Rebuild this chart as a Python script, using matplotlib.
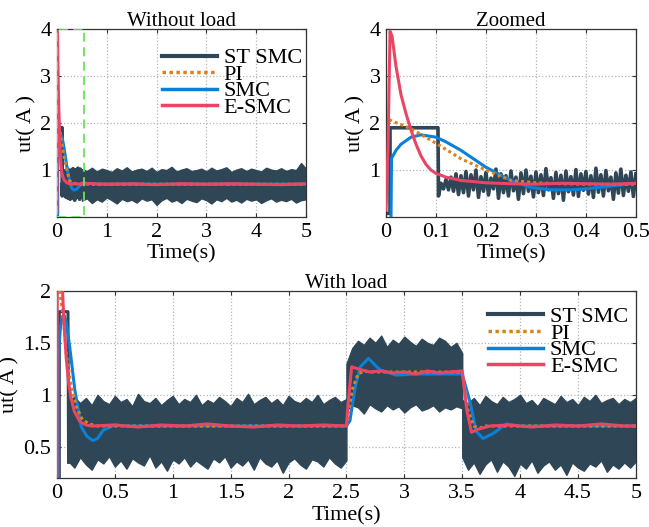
import numpy as np
import matplotlib
matplotlib.use("Agg")
import matplotlib.pyplot as plt
from matplotlib.lines import Line2D
from matplotlib.patches import Rectangle
from matplotlib.ticker import FormatStrFormatter

plt.rcParams['font.family'] = ['Liberation Serif', 'DejaVu Serif']

# ---- without load ----
esmc_nl_t = [0, 0.004, 0.008, 0.012, 0.02, 0.03, 0.04, 0.05, 0.06, 0.07, 0.08, 0.09, 0.1,
             0.12, 0.15, 0.2, 0.25, 0.3, 0.35, 0.4, 0.45, 0.5,
             1.0, 1.5, 2.0, 2.5, 3.0, 3.5, 4.0, 4.5, 5.0]
esmc_nl_u = [0.15, 1.5, 3.95, 3.85, 3.2, 2.6, 2.2, 1.85, 1.55, 1.3, 1.12, 1.0, 0.93,
             0.85, 0.78, 0.73, 0.71, 0.70, 0.72, 0.71, 0.70, 0.72,
             0.70, 0.71, 0.69, 0.71, 0.70, 0.71, 0.70, 0.69, 0.71]

smc_nl_t = [0.010, 0.011, 0.02, 0.03, 0.05, 0.07, 0.1, 0.12, 0.15, 0.2, 0.25, 0.29,
            0.33, 0.37, 0.4, 0.45, 0.5, 0.6, 0.8, 1.0, 5.0]
smc_nl_u = [0.0, 1.25, 1.42, 1.55, 1.70, 1.75, 1.70, 1.60, 1.42, 1.06, 0.78, 0.63,
            0.58, 0.58, 0.60, 0.66, 0.72, 0.72, 0.70, 0.70, 0.70]

pi_nl_t = [0.006, 0.05, 0.1, 0.15, 0.2, 0.25, 0.3, 0.35, 0.4, 5.0]
pi_nl_u = [2.07, 1.88, 1.57, 1.24, 1.0, 0.78, 0.73, 0.71, 0.70, 0.70]

stsmc_nl_t = [0, 0.008, 0.008, 0.104, 0.105]
stsmc_nl_u = [0.08, 0.08, 1.9, 1.9, 0.45]

# chattering after the reaching phase, 0.110 s .. 0.500 s every 5 ms
stsmc_chatter = [0.72, 0.60, 0.80, 0.58, 0.85, 0.55, 0.92, 0.48, 0.88, 0.52,
                 0.97, 0.45, 0.90, 0.58, 1.00, 0.42, 0.86, 0.55, 0.95, 0.47,
                 0.83, 0.60, 1.02, 0.40, 0.92, 0.52, 0.88, 0.45, 0.98, 0.56,
                 0.85, 0.38, 0.94, 0.50, 1.00, 0.55, 0.87, 0.43, 0.96, 0.52,
                 0.90, 0.46, 1.03, 0.58, 0.84, 0.40, 0.95, 0.50, 0.89, 0.36,
                 0.98, 0.54, 0.86, 0.47, 1.01, 0.44, 0.92, 0.57, 0.97, 0.49,
                 0.88, 0.42, 1.04, 0.53, 0.90, 0.45, 0.99, 0.56, 0.85, 0.38,
                 0.94, 0.51, 1.02, 0.46, 0.89, 0.55, 0.96, 0.44, 0.92]

# chattering band 0.5 s .. 5 s every 0.1 s
stsmc_nl_hi = [1.02, 0.98, 1.05, 0.97, 1.03, 1.00, 0.96, 1.04, 0.99, 1.06,
               0.97, 1.01, 1.03, 0.98, 1.05, 0.96, 1.02, 1.00, 1.07, 0.97,
               1.01, 1.04, 0.98, 1.00, 1.03, 0.97, 1.05, 0.99, 1.02, 1.06,
               0.96, 1.01, 1.04, 0.98, 1.03, 1.00, 0.97, 1.05, 1.01, 0.99,
               1.04, 0.98, 1.02, 1.00, 1.15, 1.03]
stsmc_nl_lo = [0.35, 0.40, 0.30, 0.38, 0.33, 0.42, 0.36, 0.29, 0.39, 0.34,
               0.37, 0.31, 0.40, 0.35, 0.38, 0.26, 0.36, 0.41, 0.33, 0.37,
               0.30, 0.39, 0.35, 0.32, 0.40, 0.36, 0.29, 0.38, 0.34, 0.41,
               0.33, 0.37, 0.31, 0.39, 0.35, 0.38, 0.30, 0.36, 0.40, 0.33,
               0.37, 0.34, 0.39, 0.31, 0.36, 0.38]

# ---- with load ----
esmc_ld_t = [0, 0.003, 0.01, 0.02, 0.03, 0.04, 0.05, 0.06, 0.08, 0.1, 0.12, 0.15, 0.2,
             0.25, 0.3, 0.5, 0.7, 0.9, 1.1, 1.3, 1.5, 1.7, 1.9, 2.1, 2.3, 2.5,
             2.515, 2.545, 2.6, 2.7, 2.8, 2.9, 3.0, 3.1, 3.2, 3.3, 3.4, 3.5,
             3.54, 3.58, 3.64, 3.74, 3.9, 4.1, 4.3, 4.5, 4.7, 4.9, 5.0]
esmc_ld_u = [0.2, 3.0, 3.9, 3.4, 2.8, 2.3, 1.95, 1.7, 1.35, 1.12, 0.98, 0.84, 0.74,
             0.71, 0.70, 0.71, 0.69, 0.71, 0.70, 0.72, 0.70, 0.69, 0.71, 0.70, 0.71, 0.70,
             0.92, 1.27, 1.25, 1.22, 1.23, 1.21, 1.22, 1.20, 1.23, 1.21, 1.22, 1.23,
             0.85, 0.64, 0.67, 0.70, 0.71, 0.69, 0.71, 0.70, 0.72, 0.70, 0.70]

smc_ld_t = [0.011, 0.012, 0.02, 0.03, 0.045, 0.06, 0.08, 0.11, 0.155, 0.21, 0.26, 0.31,
            0.35, 0.4, 0.5, 0.6, 2.5, 2.53, 2.575, 2.62, 2.69, 2.79, 2.93, 3.1, 3.5,
            3.57, 3.62, 3.68, 3.77, 3.88, 4.0, 5.0]
smc_ld_u = [0.2, 1.3, 1.5, 1.65, 1.75, 1.77, 1.70, 1.46, 1.04, 0.69, 0.60, 0.56,
            0.58, 0.66, 0.71, 0.70, 0.70, 0.75, 1.07, 1.27, 1.35, 1.24, 1.19, 1.20, 1.20,
            0.92, 0.65, 0.58, 0.63, 0.72, 0.70, 0.70]

pi_ld_t = [0.02, 0.05, 0.08, 0.12, 0.17, 0.22, 0.28, 0.35, 2.5, 2.55, 2.6, 2.65, 2.7,
           3.5, 3.55, 3.6, 3.65, 3.7, 5.0]
pi_ld_u = [2.0, 1.8, 1.4, 1.1, 0.88, 0.76, 0.72, 0.70, 0.70, 1.05, 1.2, 1.23, 1.22,
           1.22, 0.85, 0.70, 0.68, 0.70, 0.70]

stsmc_ld_t = [0.02, 0.02, 0.095, 0.1]
stsmc_ld_u = [0.2, 1.8, 1.8, 0.35]

# chattering band, every 0.05 s: 0.1-2.5 s, 2.5-3.5 s, 3.5-5 s
band1_hi = [0.95, 0.98, 0.92, 0.97, 0.90, 1.00, 0.94, 0.91, 0.99, 0.93,
            0.96, 0.89, 1.01, 0.94, 0.92, 0.97, 0.90, 0.95, 0.99, 0.91,
            0.96, 0.93, 1.00, 0.90, 0.95, 0.92, 0.98, 0.94, 0.89, 0.97,
            0.93, 1.01, 0.91, 0.95, 0.98, 0.92, 0.96, 0.90, 0.99, 0.94,
            0.92, 0.97, 0.93, 1.00, 0.91, 0.95, 0.98, 0.93, 0.96]
band1_lo = [0.36, 0.30, 0.40, 0.33, 0.28, 0.38, 0.34, 0.41, 0.31, 0.37,
            0.29, 0.39, 0.35, 0.32, 0.42, 0.30, 0.36, 0.27, 0.38, 0.34,
            0.40, 0.31, 0.37, 0.33, 0.29, 0.39, 0.35, 0.41, 0.30, 0.36,
            0.32, 0.38, 0.28, 0.40, 0.34, 0.31, 0.37, 0.25, 0.35, 0.39,
            0.33, 0.29, 0.38, 0.36, 0.31, 0.40, 0.34, 0.30, 0.37]
band2_hi = [1.30, 1.45, 1.52, 1.48, 1.55, 1.50, 1.57, 1.46, 1.53, 1.49, 1.56,
            1.51, 1.47, 1.54, 1.50, 1.48, 1.55, 1.52, 1.46, 1.50, 1.40]
band2_lo = [0.85, 0.90, 0.88, 0.82, 0.91, 0.87, 0.84, 0.90, 0.86, 0.89, 0.83,
            0.88, 0.91, 0.85, 0.87, 0.90, 0.84, 0.88, 0.86, 0.89, 0.87]
band3_hi = [0.95, 0.92, 0.97, 0.90, 0.99, 0.94, 0.91, 0.98, 0.93, 0.96, 1.00,
            0.92, 0.95, 0.89, 0.97, 0.94, 0.91, 0.99, 0.93, 0.96, 0.90,
            0.98, 0.94, 1.00, 0.92, 0.95, 0.97, 0.91, 0.96, 0.93, 0.97]
band3_lo = [0.40, 0.28, 0.35, 0.24, 0.33, 0.38, 0.26, 0.36, 0.31, 0.22, 0.34,
            0.29, 0.37, 0.25, 0.32, 0.36, 0.28, 0.33, 0.23, 0.35, 0.30,
            0.27, 0.34, 0.31, 0.37, 0.26, 0.33, 0.29, 0.35, 0.30, 0.36]

c_st = '#2E4656'
c_pi = '#D9821E'
c_smc = '#0A80D8'
c_es = '#E84664'

t_chatter = np.linspace(0.11, 0.5, len(stsmc_chatter))
t_nl_band = np.linspace(0.5, 5.0, len(stsmc_nl_hi))

fig = plt.figure(figsize=(6.49, 5.27), dpi=100)
ax1 = fig.add_axes([0.0878, 0.588, 0.3837, 0.357])
ax2 = fig.add_axes([0.5948, 0.588, 0.385, 0.357])
ax3 = fig.add_axes([0.0878, 0.093, 0.892, 0.355])


def style(ax, xpad):
    ax.grid(True, ls=':', color='#b5b5b5', lw=0.9)
    for s in ax.spines.values():
        s.set_color('#333333')
        s.set_linewidth(0.9)
    ax.tick_params(direction='in', length=3, top=True, right=True,
                   labelsize=16, pad=4, color='#333333')
    ax.xaxis.set_major_formatter(FormatStrFormatter('%g'))
    ax.yaxis.set_major_formatter(FormatStrFormatter('%g'))
    ax.set_xlabel('Time(s)', fontsize=16, labelpad=xpad)
    ax.set_ylabel('ut( A )', fontsize=16, labelpad=3)


def draw_no_load(ax, full):
    st_t = list(stsmc_nl_t) + list(t_chatter)
    st_u = list(stsmc_nl_u) + list(stsmc_chatter)
    ax.plot(st_t, st_u, color=c_st, lw=2.6, zorder=2)
    if full:
        ax.fill_between(t_nl_band, stsmc_nl_lo, stsmc_nl_hi, color=c_st, lw=1, zorder=2)
    ax.plot(smc_nl_t, smc_nl_u, color=c_smc, lw=2.2, zorder=3)
    ax.plot(pi_nl_t, pi_nl_u, color=c_pi, lw=2.2, ls=(0, (1, 1)), zorder=3)
    ax.plot(esmc_nl_t, esmc_nl_u, color=c_es, lw=2.2, zorder=4)


handles = [Line2D([], [], color=c_st, lw=3),
           Line2D([], [], color=c_pi, lw=2.5, ls=(0, (1, 1))),
           Line2D([], [], color=c_smc, lw=2.5),
           Line2D([], [], color=c_es, lw=2.5)]
names = ['ST SMC', 'PI', 'SMC', 'E-SMC']


def add_legend(ax, x, y):
    ax.legend(handles, names, loc='upper left', bbox_to_anchor=(x, y), frameon=False,
              fontsize=16, handlelength=2.5, handletextpad=0.3, labelspacing=-0.18,
              borderpad=0, borderaxespad=0)


# Without load
draw_no_load(ax1, True)
ax1.add_patch(Rectangle((0, 0), 0.55, 4, fill=False, ec='#66E655', ls=(0, (5, 3)),
                        lw=1.3, zorder=5))
ax1.set_xlim(0, 5)
ax1.set_ylim(0, 4)
ax1.set_xticks([0, 1, 2, 3, 4, 5])
ax1.set_yticks([1, 2, 3, 4])
ax1.set_title('Without load', fontsize=15, pad=2)
style(ax1, 2)
add_legend(ax1, 0.42, 0.9)

# Zoomed
draw_no_load(ax2, False)
ax2.set_xlim(0, 0.5)
ax2.set_ylim(0, 4)
ax2.set_xticks([0, 0.1, 0.2, 0.3, 0.4, 0.5])
ax2.set_yticks([1, 2, 3, 4])
ax2.set_title('Zoomed', fontsize=15, pad=2)
style(ax2, 2)

# With load
ax3.plot(stsmc_ld_t, stsmc_ld_u, color=c_st, lw=2.2, zorder=2)
ax3.fill_between(np.linspace(0.1, 2.5, len(band1_hi)), band1_lo, band1_hi,
                 color=c_st, lw=1, zorder=2)
ax3.fill_between(np.linspace(2.5, 3.5, len(band2_hi)), band2_lo, band2_hi,
                 color=c_st, lw=1, zorder=2)
ax3.fill_between(np.linspace(3.5, 5.0, len(band3_hi)), band3_lo, band3_hi,
                 color=c_st, lw=1, zorder=2)
ax3.plot(smc_ld_t, smc_ld_u, color=c_smc, lw=2.2, zorder=3)
ax3.plot(pi_ld_t, pi_ld_u, color=c_pi, lw=2.2, ls=(0, (1, 1)), zorder=3)
ax3.plot(esmc_ld_t, esmc_ld_u, color=c_es, lw=2.2, zorder=4)
ax3.set_xlim(0, 5)
ax3.set_ylim(0.2, 2)
ax3.set_xticks(np.arange(0, 5.01, 0.5))
ax3.set_yticks([0.5, 1, 1.5, 2])
ax3.set_title('With load', fontsize=15, pad=2)
style(ax3, 3)
add_legend(ax3, 0.744, 0.916)

fig.savefig('out.png', dpi=100)
